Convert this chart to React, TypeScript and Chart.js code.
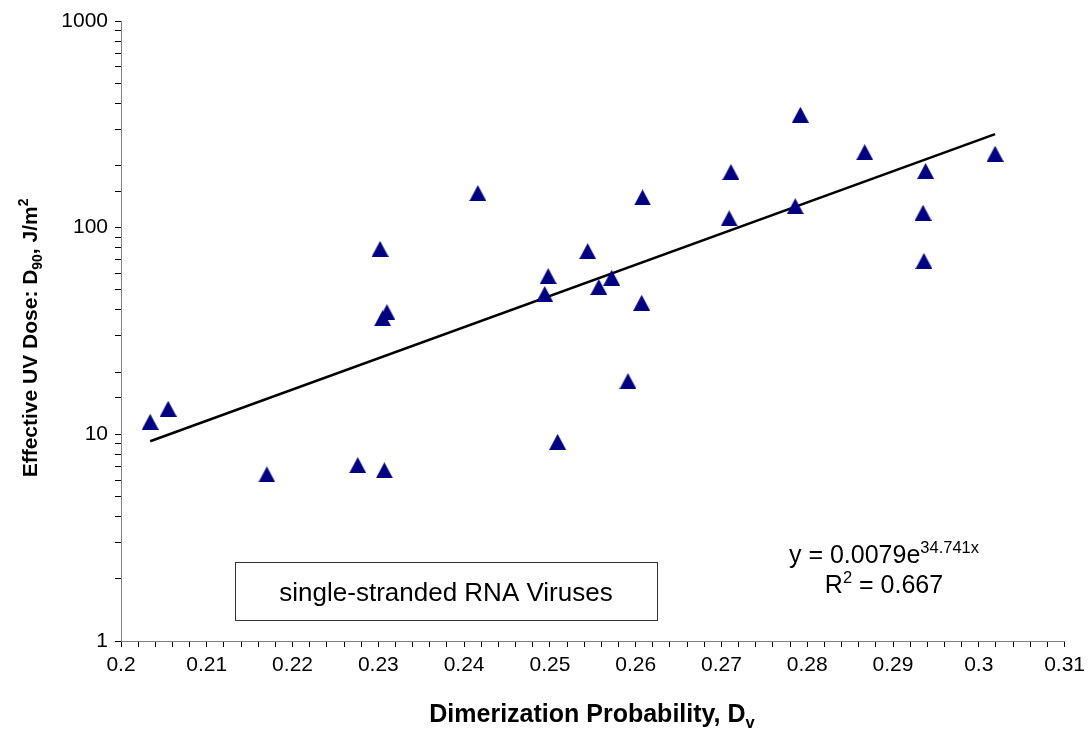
import React, { useEffect, useRef } from "react";
import { Chart, registerables } from "chart.js";

Chart.register(...registerables);

// ---- data ----
const dimerProb: number[] = [
  0.2034, 0.2055, 0.2170, 0.2276, 0.2307, 0.2302, 0.2310, 0.2305, 0.2416,
  0.2494, 0.2498, 0.2509, 0.2544, 0.2557, 0.2572, 0.2591, 0.2607, 0.2608,
  0.2709, 0.2711, 0.2786, 0.2792, 0.2867, 0.2935, 0.2936, 0.2938, 0.3019,
];
const uvDose: number[] = [
  11.5, 13.3, 6.4, 7.1, 6.7, 79, 39, 36.5, 147,
  47.7, 58.3, 9.2, 77, 51.6, 57.2, 18.1, 43.3, 140,
  111, 186, 127, 352, 232, 118, 69, 188, 228,
];
// exponential trendline shown on the chart: y = 0.0079 e^(34.741 x)
const TREND_A = 0.0079;
const TREND_B = 34.741;
const X_TICK_LABELS = ["0.2", "0.21", "0.22", "0.23", "0.24", "0.25", "0.26", "0.27", "0.28", "0.29", "0.3", "0.31"];
const Y_TICK_LABELS = ["1", "10", "100", "1000"];
const BOX_TEXT = "single-stranded RNA Viruses";

const FAM = '"Liberation Sans", Arial, Helvetica, sans-serif';

type Seg = { t: string; k?: "sub" | "sup" };

function drawRich(ctx: CanvasRenderingContext2D, segs: Seg[], x: number, y: number, size: number, bold: boolean) {
  const small = size * 0.66;
  const f = (s: number) => `${bold ? "bold " : ""}${s}px ${FAM}`;
  const widths = segs.map((s) => {
    ctx.font = f(s.k ? small : size);
    return ctx.measureText(s.t).width;
  });
  const total = widths.reduce((a, b) => a + b, 0);
  let cx = x - total / 2;
  ctx.textAlign = "left";
  ctx.textBaseline = "alphabetic";
  segs.forEach((s, i) => {
    ctx.font = f(s.k ? small : size);
    const dy = s.k === "sub" ? size * 0.22 : s.k === "sup" ? -size * 0.42 : 0;
    ctx.fillText(s.t, cx, y + dy);
    cx += widths[i];
  });
}

function makeTriangle(w: number, h: number, color: string) {
  const c = document.createElement("canvas");
  c.width = w;
  c.height = h;
  const g = c.getContext("2d")!;
  g.fillStyle = color;
  g.beginPath();
  g.moveTo(w / 2, 0);
  g.lineTo(w, h);
  g.lineTo(0, h);
  g.closePath();
  g.fill();
  return c;
}

const annotations = {
  id: "annotations",
  afterDraw(chart: any) {
    const ctx: CanvasRenderingContext2D = chart.ctx;
    ctx.save();
    ctx.fillStyle = "#000";
    // x axis title
    drawRich(ctx, [{ t: "Dimerization Probability, D" }, { t: "v", k: "sub" }], 592, 722, 25, true);
    // y axis title
    ctx.save();
    ctx.translate(37, 338);
    ctx.rotate(-Math.PI / 2);
    drawRich(
      ctx,
      [{ t: "Effective UV Dose: D" }, { t: "90", k: "sub" }, { t: ", J/m" }, { t: "2", k: "sup" }],
      0,
      0,
      21,
      true
    );
    ctx.restore();
    // equation
    drawRich(ctx, [{ t: "y = 0.0079e" }, { t: "34.741x", k: "sup" }], 884, 563, 25, false);
    drawRich(ctx, [{ t: "R" }, { t: "2", k: "sup" }, { t: " = 0.667" }], 884, 593, 25, false);
    // text box
    ctx.strokeStyle = "#333";
    ctx.lineWidth = 1;
    ctx.strokeRect(235.5, 562.5, 422, 58);
    drawRich(ctx, [{ t: BOX_TEXT }], 446, 601, 26, false);
    ctx.restore();
  },
};

export default function App() {
  const ref = useRef<HTMLCanvasElement | null>(null);
  useEffect(() => {
    document.body.style.margin = "0";
    const canvas = ref.current!;
    const tri = makeTriangle(17, 16, "#000080");
    const pts = dimerProb.map((x, i) => ({ x, y: uvDose[i] }));
    const xMin = Math.min(...dimerProb);
    const xMax = Math.max(...dimerProb);
    const trend = [xMin, xMax].map((x) => ({ x, y: TREND_A * Math.exp(TREND_B * x) }));
    const chart = new Chart(canvas, {
      type: "scatter",
      data: {
        datasets: [
          {
            type: "line",
            data: trend,
            borderColor: "#000",
            borderWidth: 2.5,
            pointRadius: 0,
            fill: false,
            order: 2,
          } as any,
          {
            data: pts,
            pointStyle: tri as any,
            pointRadius: 9,
            backgroundColor: "#000080",
            borderColor: "#000080",
            order: 1,
          },
        ],
      },
      options: {
        animation: false,
        responsive: false,
        devicePixelRatio: 1,
        events: [],
        layout: { padding: { top: 21, right: 24, left: 0, bottom: 0 } },
        plugins: { legend: { display: false }, tooltip: { enabled: false } },
        scales: {
          x: {
            type: "linear",
            min: 0.2,
            max: 0.31,
            afterFit: (s: any) => {
              s.height = 88;
            },
            border: { display: true, color: "#808080", width: 1 },
            grid: { drawOnChartArea: false, drawTicks: true, tickLength: 6, color: "#000" },
            ticks: {
              stepSize: 0.002,
              autoSkip: false,
              maxRotation: 0,
              padding: 6,
              color: "#000",
              font: { family: FAM, size: 21 },
              callback: (v: any) => X_TICK_LABELS.find((l) => Math.abs(parseFloat(l) - Number(v)) < 1e-6) ?? "",
            },
          },
          y: {
            type: "logarithmic",
            min: 1,
            max: 1000,
            afterFit: (s: any) => {
              s.width = 121;
            },
            border: { display: true, color: "#808080", width: 1 },
            grid: { drawOnChartArea: false, drawTicks: true, tickLength: 6, color: "#000" },
            ticks: {
              autoSkip: false,
              padding: 7,
              color: "#000",
              font: { family: FAM, size: 21 },
              callback: (v: any) => Y_TICK_LABELS.find((l) => Math.abs(parseFloat(l) - Number(v)) < 1e-6) ?? "",
            },
          },
        },
      },
      plugins: [annotations],
    });
    return () => chart.destroy();
  }, []);
  return (
    <div style={{ width: 1091, height: 729, background: "#fff" }}>
      <canvas ref={ref} width={1091} height={729} style={{ display: "block" }} />
    </div>
  );
}
